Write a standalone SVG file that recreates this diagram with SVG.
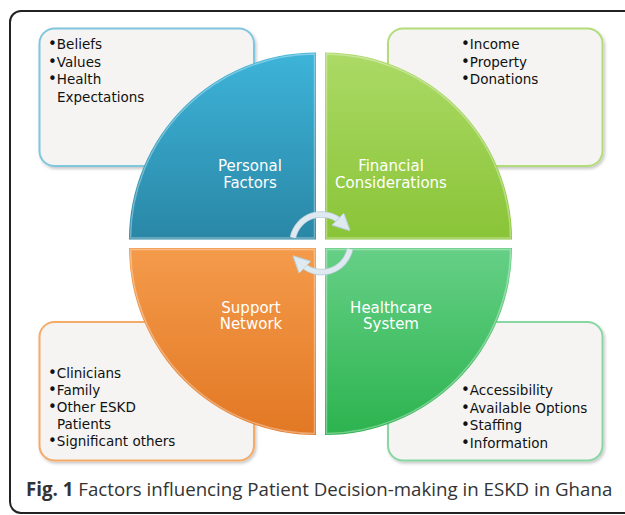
<svg xmlns="http://www.w3.org/2000/svg" width="625" height="515" viewBox="0 0 625 515">
  <defs>
    <linearGradient id="gBlue" x1="0" y1="0" x2="0" y2="1">
      <stop offset="0" stop-color="#3db4d9"/>
      <stop offset="1" stop-color="#2a87a6"/>
    </linearGradient>
    <linearGradient id="gLime" x1="0" y1="0" x2="0" y2="1">
      <stop offset="0" stop-color="#acda66"/>
      <stop offset="1" stop-color="#89c437"/>
    </linearGradient>
    <linearGradient id="gOrange" x1="0" y1="0" x2="0" y2="1">
      <stop offset="0" stop-color="#f49b4b"/>
      <stop offset="1" stop-color="#e27824"/>
    </linearGradient>
    <linearGradient id="gGreen" x1="0" y1="0" x2="0" y2="1">
      <stop offset="0" stop-color="#66d086"/>
      <stop offset="1" stop-color="#2cb34f"/>
    </linearGradient>
    <filter id="shadow" x="-10%" y="-10%" width="125%" height="125%">
      <feDropShadow dx="1.5" dy="2" stdDeviation="1.6" flood-color="#000" flood-opacity="0.22"/>
    </filter>
    <marker id="cycleHead" viewBox="0 0 10 10" refX="3" refY="5" markerWidth="3.4" markerHeight="3.4" orient="auto" markerUnits="strokeWidth">
      <path d="M0,0 L10,5 L0,10 Z" fill="#dfeaf0" stroke="#b9cfdb" stroke-width="0.6"/>
    </marker>
  </defs>
  <style>
    .frame { fill: none; stroke: #222; stroke-width: 2; }
    .box { fill: #f5f4f2; stroke-width: 2; filter: url(#shadow); }
    .list { font-family: "DejaVu Sans", Verdana, sans-serif; font-size: 13.5px; fill: #111; }
    .dot { font-size: 15px; }
    .label { font-family: "DejaVu Sans", Verdana, sans-serif; font-size: 15px; fill: #fff; text-anchor: middle; }
    .rim { fill: none; stroke: #ffffff; stroke-opacity: 0.35; stroke-width: 1.5; }
    .cycle { fill: none; stroke: #dfeaf0; stroke-width: 5; stroke-linecap: butt; }
    .cycle-edge { fill: none; stroke: #b6ccd8; stroke-width: 6.5; }
    .caption { font-family: "Open Sans", "Liberation Sans", sans-serif; font-size: 18.7px; fill: #333; }
  </style>

  <rect width="625" height="515" fill="#ffffff"/>
  <rect class="frame" x="10" y="11" width="640" height="502" rx="11"/>

  <!-- Personal factors -->
  <g id="personal">
    <rect class="box" x="39.5" y="28.5" width="214.5" height="137.5" rx="15" stroke="#7fc6de"/>
    <text class="list" x="48" y="49"><tspan class="dot">•</tspan>Beliefs</text>
    <text class="list" x="48" y="66.5"><tspan class="dot">•</tspan>Values</text>
    <text class="list" x="48" y="84"><tspan class="dot">•</tspan>Health</text>
    <text class="list" x="57" y="101.5">Expectations</text>
    <path d="M316,239.5 L129,239.5 A187,187 0 0 1 316,52.5 Z" fill="url(#gBlue)"/>
    <path class="rim" d="M314.5,238 L130.5,238 A185.5,185.5 0 0 1 314.5,54 Z"/>
    <text class="label" x="250" y="171">Personal</text>
    <text class="label" x="250" y="188">Factors</text>
  </g>

  <!-- Financial considerations -->
  <g id="financial">
    <rect class="box" x="388" y="28.5" width="214.5" height="137.5" rx="15" stroke="#b2dc78"/>
    <text class="list" x="461" y="49"><tspan class="dot">•</tspan>Income</text>
    <text class="list" x="461" y="66.5"><tspan class="dot">•</tspan>Property</text>
    <text class="list" x="461" y="84"><tspan class="dot">•</tspan>Donations</text>
    <path d="M325,239.5 L325,52.5 A187,187 0 0 1 512,239.5 Z" fill="url(#gLime)"/>
    <path class="rim" d="M326.5,238 L326.5,54 A185.5,185.5 0 0 1 510.5,238 Z"/>
    <text class="label" x="391" y="171">Financial</text>
    <text class="label" x="391" y="188">Considerations</text>
  </g>

  <!-- Support network -->
  <g id="support">
    <rect class="box" x="39.5" y="322" width="214.5" height="138.5" rx="15" stroke="#f5ab68"/>
    <text class="list" x="48" y="377.5"><tspan class="dot">•</tspan>Clinicians</text>
    <text class="list" x="48" y="395"><tspan class="dot">•</tspan>Family</text>
    <text class="list" x="48" y="412"><tspan class="dot">•</tspan>Other ESKD</text>
    <text class="list" x="57" y="429">Patients</text>
    <text class="list" x="48" y="446"><tspan class="dot">•</tspan>Significant others</text>
    <path d="M316,248 L316,435 A187,187 0 0 1 129,248 Z" fill="url(#gOrange)"/>
    <path class="rim" d="M314.5,249.5 L314.5,433.5 A185.5,185.5 0 0 1 130.5,249.5 Z"/>
    <text class="label" x="251" y="312.5">Support</text>
    <text class="label" x="251" y="329">Network</text>
  </g>

  <!-- Healthcare system -->
  <g id="healthcare">
    <rect class="box" x="388" y="322" width="214.5" height="138.5" rx="15" stroke="#88d7a2"/>
    <text class="list" x="461" y="395"><tspan class="dot">•</tspan>Accessibility</text>
    <text class="list" x="461" y="412.5"><tspan class="dot">•</tspan>Available Options</text>
    <text class="list" x="461" y="430"><tspan class="dot">•</tspan>Staffing</text>
    <text class="list" x="461" y="447.5"><tspan class="dot">•</tspan>Information</text>
    <path d="M325,248 L512,248 A187,187 0 0 1 325,435 Z" fill="url(#gGreen)"/>
    <path class="rim" d="M326.5,249.5 L510.5,249.5 A185.5,185.5 0 0 1 326.5,433.5 Z"/>
    <text class="label" x="391" y="312.5">Healthcare</text>
    <text class="label" x="391" y="329">System</text>
  </g>

  <!-- Cycle arrows linking the four factors -->
  <g id="connectors">
    <path class="cycle-edge" d="M293,237.5 A29,29 0 0 1 341.5,222.5"/>
    <path class="cycle" d="M293,237.5 A29,29 0 0 1 341.5,222.5" marker-end="url(#cycleHead)"/>
    <path class="cycle-edge" d="M350,249 A29,29 0 0 1 301.5,264"/>
    <path class="cycle" d="M350,249 A29,29 0 0 1 301.5,264" marker-end="url(#cycleHead)"/>
  </g>

  <text class="caption" x="26" y="496"><tspan font-weight="bold">Fig. 1</tspan> Factors influencing Patient Decision-making in ESKD in Ghana</text>
</svg>
